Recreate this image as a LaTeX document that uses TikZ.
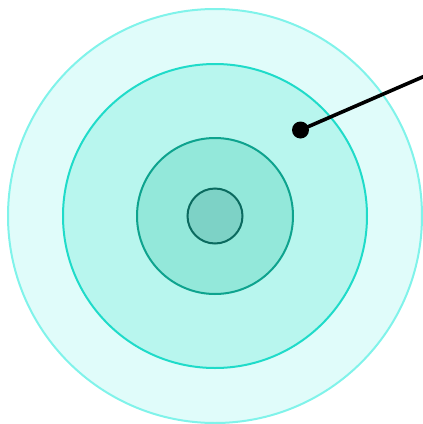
\documentclass[tikz,border=0pt]{standalone}
\definecolor{f1}{HTML}{E0FCFA}
\definecolor{s1}{HTML}{80F3EA}
\definecolor{f2}{HTML}{B8F6EE}
\definecolor{s2}{HTML}{1FDBC9}
\definecolor{f3}{HTML}{93E8DA}
\definecolor{s3}{HTML}{0EA38E}
\definecolor{f4}{HTML}{7DD2C6}
\definecolor{s4}{HTML}{0B6A5F}
\begin{document}
\begin{tikzpicture}[x=1pt,y=-1pt,
  ring/.style={circle,inner sep=0pt,line width=2pt}]
\useasboundingbox (0,0) rectangle (423,424);
\node[ring,draw=s1,fill=f1,minimum size=414pt] (c1) at (215,216) {};
\node[ring,draw=s2,fill=f2,minimum size=304pt] (c2) at (215,216) {};
\node[ring,draw=s3,fill=f3,minimum size=156pt] (c3) at (215,216) {};
\node[ring,draw=s4,fill=f4,minimum size=55pt] (c4) at (215,216) {};
\coordinate (e) at (426,75.5);
\node[circle,fill=black,inner sep=0pt,minimum size=17pt] (d) at (300.5,130) {};
\draw[line width=3.6pt] (d.center) -- (e);
\end{tikzpicture}
\end{document}
